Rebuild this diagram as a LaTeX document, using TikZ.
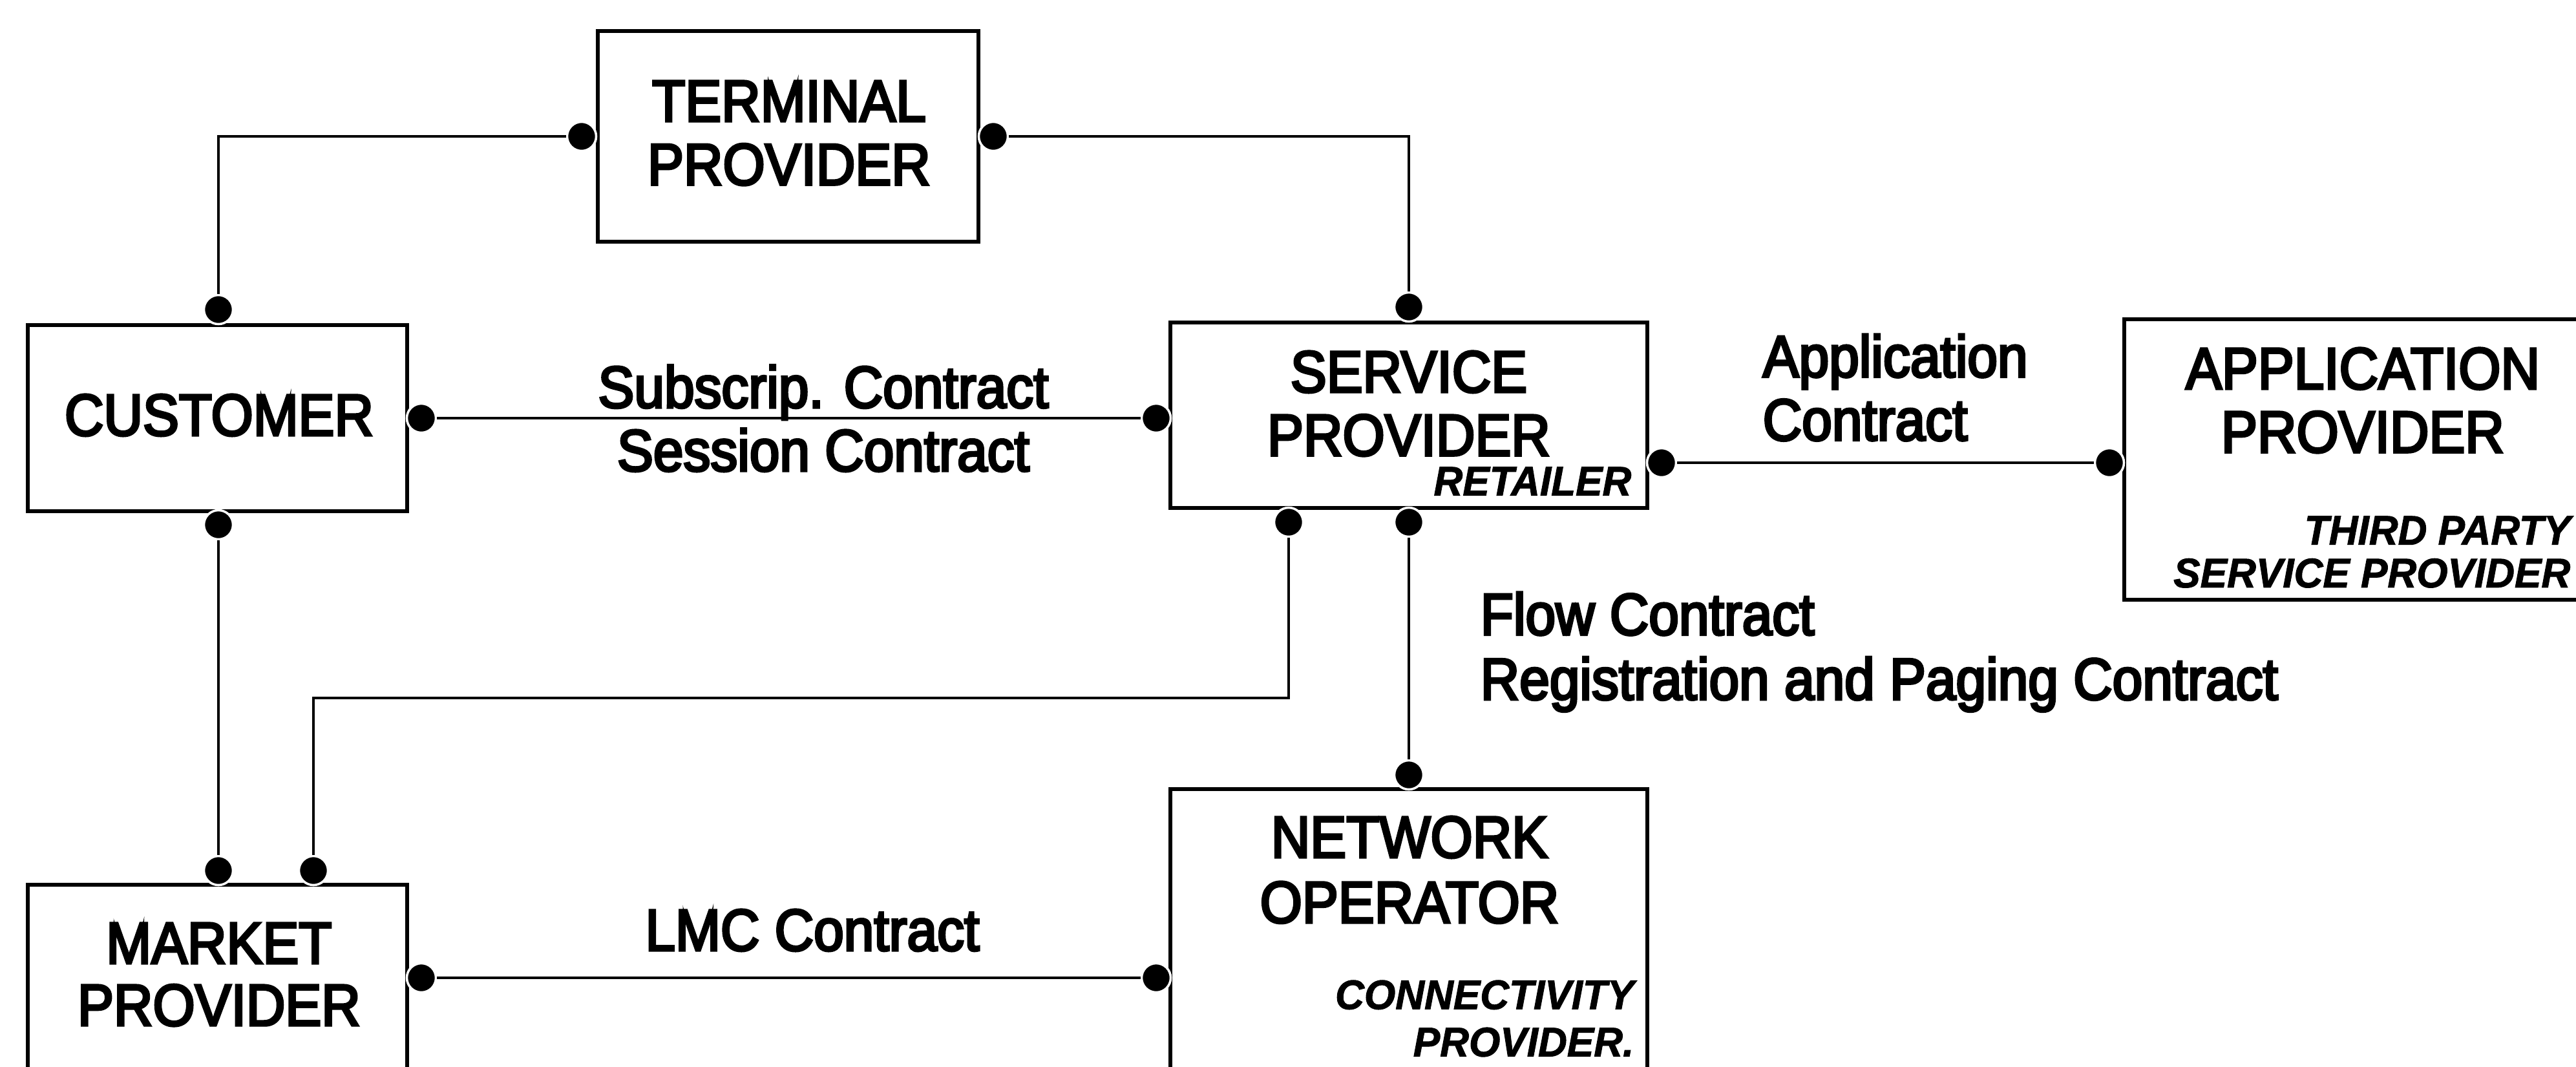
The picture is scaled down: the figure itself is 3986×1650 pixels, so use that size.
\documentclass[tikz,border=0pt]{standalone}
\usepackage{fontspec}
\setmainfont{Liberation Sans}
\newfontfamily\labelfont[FakeStretch=0.92,FakeBold=4]{Liberation Sans}
\newfontfamily\rolefont[FakeStretch=0.97,FakeBold=1.5]{Liberation Sans}

\tikzset{
  box/.style={draw, line width=1.6pt, inner sep=0pt, outer sep=0pt},
  dot/.style={circle, fill=black, draw=white, line width=1pt, inner sep=0pt, minimum size=0.45cm},
  link/.style={line width=1.3pt},
  lbl/.style={font=\labelfont\fontsize{25.9pt}{27.9pt}\selectfont, inner sep=0pt, anchor=north, align=center},
  role/.style={font=\rolefont\bfseries\itshape\fontsize{18.2pt}{19.9pt}\selectfont, inner sep=0pt, anchor=north east, align=right}
}

\begin{document}
\begin{tikzpicture}[x=0.01cm, y=-0.01cm]
\useasboundingbox (0,0) rectangle (3986,1650);
\fill[white] (0,0) rectangle (3986,1650);
\clip (0,0) rectangle (3986,1650);

% parties
\node[box, minimum width=5.89cm, minimum height=3.26cm] (term) at (1219.5,211) {};
\node[box, minimum width=5.87cm, minimum height=2.88cm] (cust) at (336.5,647) {};
\node[box, minimum width=7.38cm, minimum height=2.87cm] (serv) at (2180,642.5) {};
\node[box, minimum width=7.43cm, minimum height=4.34cm] (app) at (3658.5,711) {};
\node[box, minimum width=7.38cm, minimum height=4.99cm] (net) at (2180,1470.5) {};
\node[box, minimum width=5.87cm, minimum height=2.91cm] (mkt) at (336.5,1514.5) {};

% contract end points
\node[dot] (tl) at (900,211) {};
\node[dot] (tr) at (1537,211) {};
\node[dot] (ct) at (338,479) {};
\node[dot] (cr) at (652,647) {};
\node[dot] (cb) at (338,812) {};
\node[dot] (st) at (2180,475) {};
\node[dot] (sl) at (1789,647) {};
\node[dot] (sr) at (2571,716) {};
\node[dot] (sb1) at (1994,808) {};
\node[dot] (sb2) at (2180,808) {};
\node[dot] (al) at (3264,716) {};
\node[dot] (nt) at (2180,1199) {};
\node[dot] (nl) at (1789,1513) {};
\node[dot] (mt1) at (338,1347) {};
\node[dot] (mt2) at (485,1347) {};
\node[dot] (mr) at (652,1513) {};

% contracts
\draw[link] (tl) -| (ct);
\draw[link] (tr) -| (st);
\draw[link] (cr) -- (sl);
\draw[link] (sr) -- (al);
\draw[link] (cb) -- (mt1);
\coordinate (jog) at (485,1080);
\draw[link] (sb1) |- (jog) -- (mt2);
\draw[link] (sb2) -- (nt);
\draw[link] (mr) -- (nl);

% party names
\node[lbl] (termtxt) at (1221,124.5) {TERMINAL\\PROVIDER};
\node[lbl] (custtxt) at (339,609.5) {CUSTOMER};
\node[lbl] (servtxt) at (2180,542.5) {SERVICE\\PROVIDER};
\node[role] (servrole) at (2525,722) {RETAILER};
\node[lbl] (apptxt) at (3656,537.5) {APPLICATION\\PROVIDER};
\node[role, font=\rolefont\bfseries\itshape\fontsize{18.2pt}{18.8pt}\selectfont] (approle) at (3978,798) {THIRD PARTY\\SERVICE PROVIDER};
\node[lbl, font=\labelfont\fontsize{25.9pt}{28.7pt}\selectfont] (nettxt) at (2181,1262.5) {NETWORK\\OPERATOR};
\node[role, font=\rolefont\bfseries\itshape\fontsize{18.2pt}{20.8pt}\selectfont] (netrole) at (2529,1516) {CONNECTIVITY\\PROVIDER.};
\node[lbl, font=\labelfont\fontsize{25.9pt}{27.3pt}\selectfont] (mkttxt) at (339,1427.5) {MARKET\\PROVIDER};

% contract names
\node[lbl] (subcon) at (1274,564) {Subscrip. Contract\\Session Contract};
\node[lbl, anchor=north west, align=left] (appcon) at (2727,516.5) {Application\\Contract};
\node[lbl, anchor=north west, align=left, font=\labelfont\fontsize{25.9pt}{28.5pt}\selectfont] (flowcon) at (2290,915.5) {Flow Contract\\Registration and Paging Contract};
\node[lbl] (lmc) at (1257,1406.5) {LMC Contract};
\end{tikzpicture}
\end{document}
